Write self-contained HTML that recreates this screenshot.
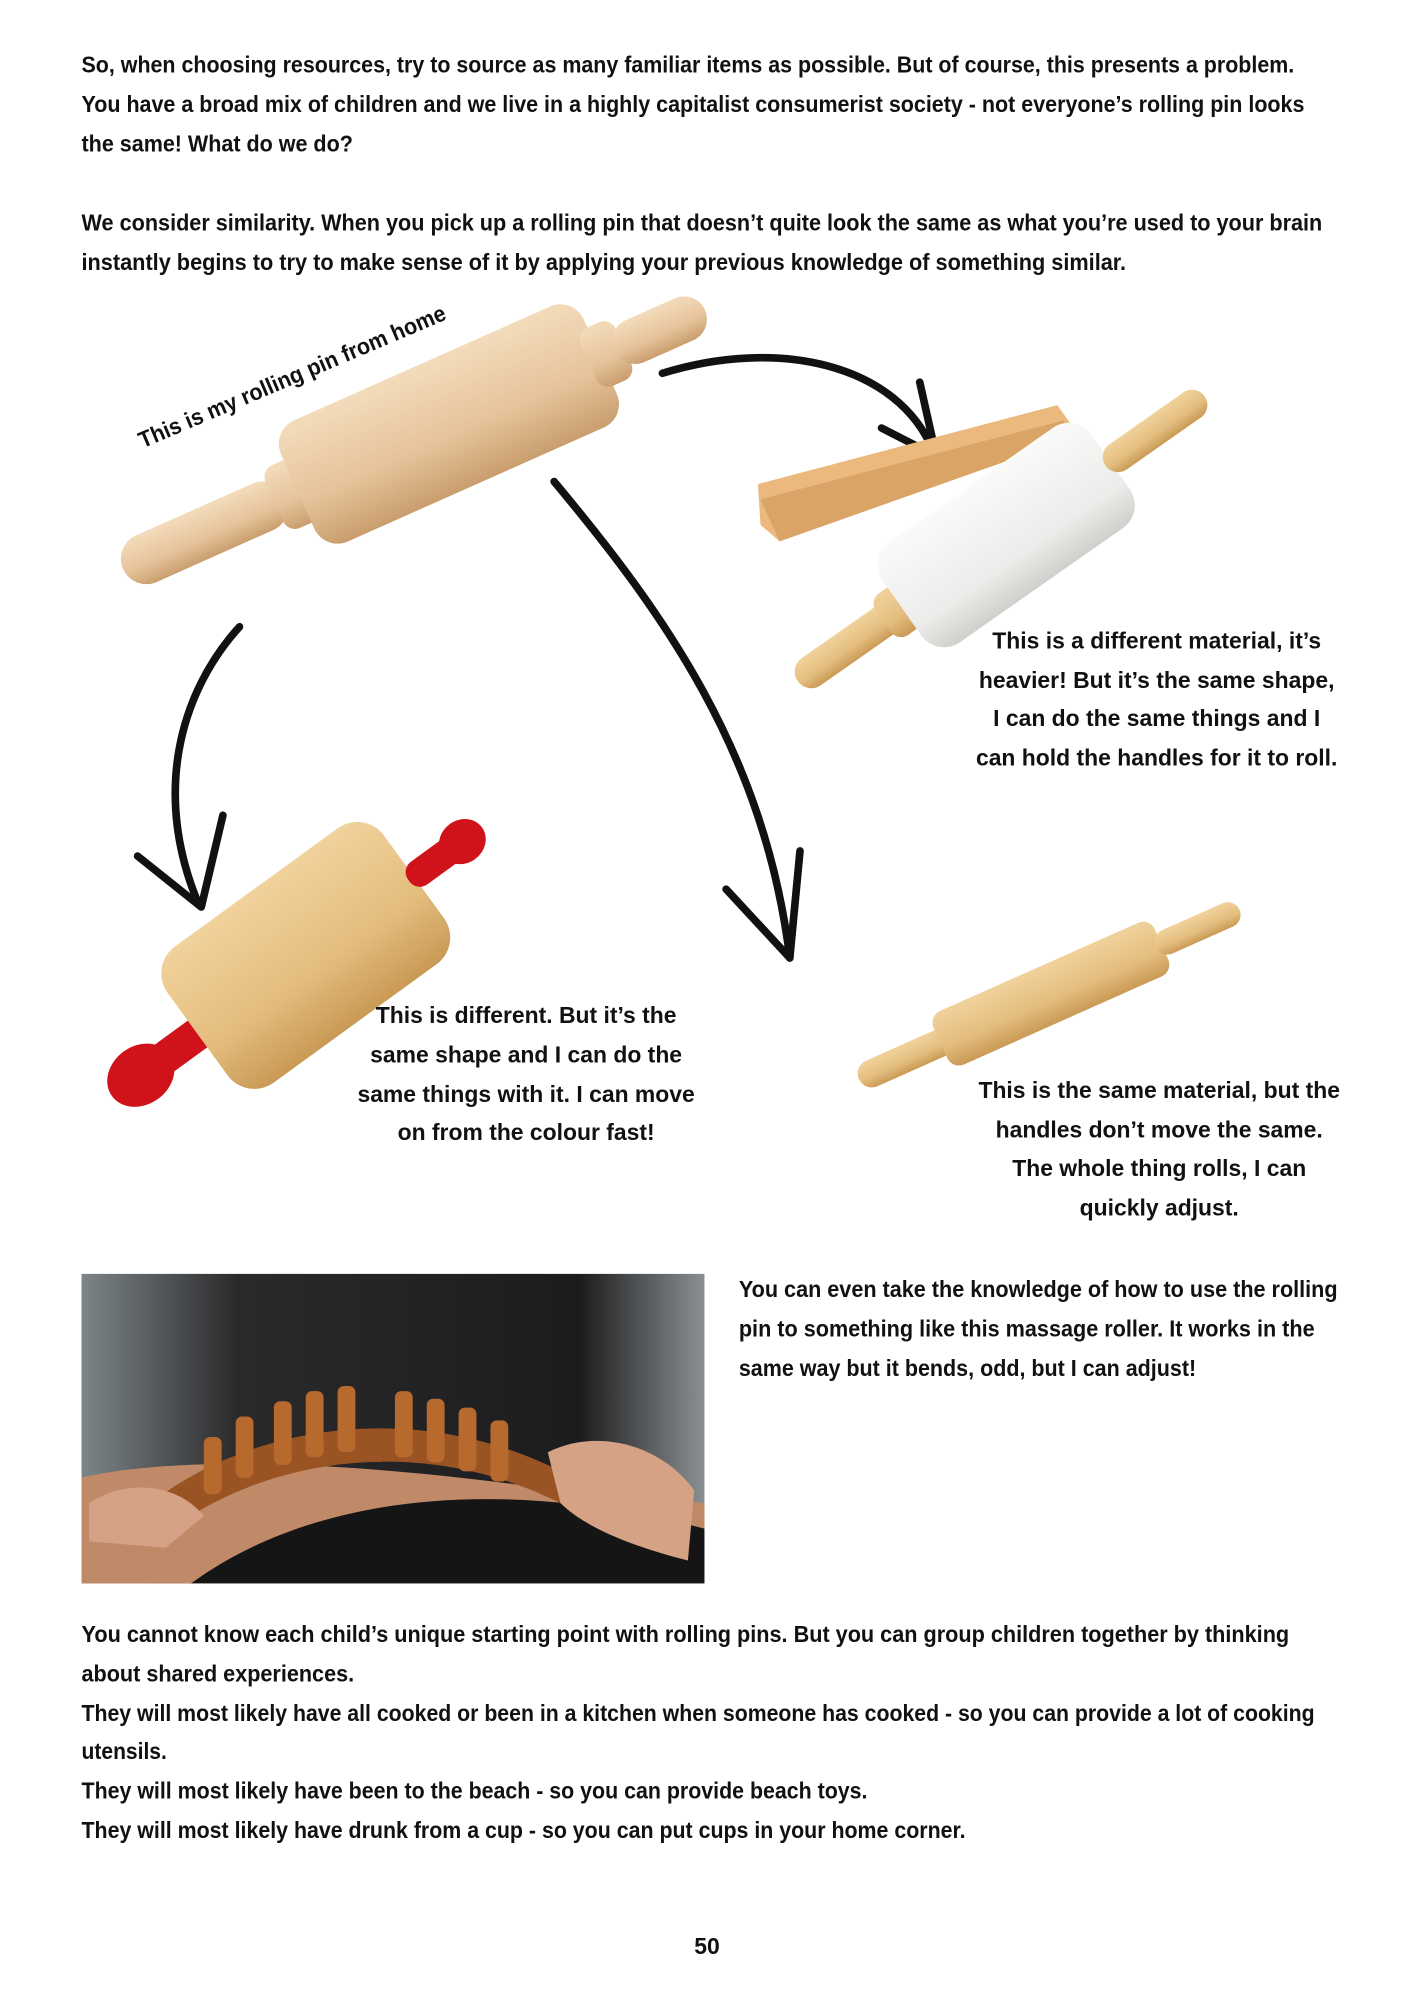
<!DOCTYPE html>
<html><head><meta charset="utf-8"><style>
html,body{margin:0;padding:0;background:#fff;width:1414px;height:2000px;overflow:hidden}
svg{display:block}
text{font-family:"Liberation Sans Narrow","Liberation Sans",sans-serif;font-weight:bold;font-size:18px;fill:#111}
</style></head><body>
<svg width="1414" height="2000" viewBox="0 0 1110 1570" xmlns="http://www.w3.org/2000/svg">
<defs>
<linearGradient id="wood" x1="0" y1="0" x2="0" y2="1"><stop offset="0" stop-color="#f3dcbb"/><stop offset="0.6" stop-color="#e6c29a"/><stop offset="1" stop-color="#c99e6e"/></linearGradient>
<linearGradient id="wood2" x1="0" y1="0" x2="0" y2="1"><stop offset="0" stop-color="#f1d29c"/><stop offset="0.6" stop-color="#e4bd7e"/><stop offset="1" stop-color="#c99a55"/></linearGradient>
<linearGradient id="marble" x1="0" y1="0" x2="0" y2="1"><stop offset="0" stop-color="#fafaf8"/><stop offset="0.7" stop-color="#ececea"/><stop offset="1" stop-color="#cfcfcc"/></linearGradient>
<linearGradient id="photo" x1="0" y1="0" x2="1" y2="0"><stop offset="0" stop-color="#7d8588"/><stop offset="0.25" stop-color="#2a2a2c"/><stop offset="0.8" stop-color="#1c1c1e"/><stop offset="1" stop-color="#8a9092"/></linearGradient>
</defs>

<text x="64" y="57" textLength="952" lengthAdjust="spacingAndGlyphs">So, when choosing resources, try to source as many familiar items as possible. But of course, this presents a problem.</text>
<text x="64" y="88" textLength="960" lengthAdjust="spacingAndGlyphs">You have a broad mix of children and we live in a highly capitalist consumerist society - not everyone’s rolling pin looks</text>
<text x="64" y="119" textLength="213" lengthAdjust="spacingAndGlyphs">the same! What do we do?</text>
<text x="64" y="181" textLength="974" lengthAdjust="spacingAndGlyphs">We consider similarity. When you pick up a rolling pin that doesn’t quite look the same as what you’re used to your brain</text>
<text x="64" y="212" textLength="820" lengthAdjust="spacingAndGlyphs">instantly begins to try to make sense of it by applying your previous knowledge of something similar.</text>

<!-- pin 1 -->
<g transform="translate(325,345) rotate(-24)">
<rect x="-250" y="-20" width="140" height="40" rx="20" fill="url(#wood)"/>
<rect x="-120" y="-27" width="30" height="54" rx="10" fill="url(#wood)"/>
<rect x="-100" y="-52" width="260" height="104" rx="20" fill="url(#wood)"/>
<rect x="150" y="-25" width="30" height="50" rx="10" fill="url(#wood)"/>
<rect x="172" y="-18" width="78" height="36" rx="18" fill="url(#wood)"/>
</g>
<text transform="translate(112,352) rotate(-23)" font-size="17" textLength="260" lengthAdjust="spacingAndGlyphs">This is my rolling pin from home</text>

<!-- arrows -->
<g fill="none" stroke="#111" stroke-width="6" stroke-linecap="round" stroke-linejoin="round">
<path d="M520,293 C610,265 705,285 733,355"/>
<path d="M692,336 L735,358 L722,300"/>
<path d="M435,378 C520,480 600,590 620,752"/>
<path d="M570,698 L620,752 L628,668"/>
<path d="M188,492 C140,545 120,625 156,710"/>
<path d="M108,672 L158,712 L175,640"/>
</g>

<!-- tray -->
<polygon points="595,380 830,318 840,332 838,345 612,425 597,412" fill="#ebb97e"/>
<polygon points="597,392 835,330 838,345 612,425" fill="#d9a466"/>

<!-- marble pin -->
<g transform="translate(790,420) rotate(-35)">
<rect x="-200" y="-13" width="95" height="26" rx="13" fill="url(#wood2)"/>
<rect x="-118" y="-20" width="26" height="40" rx="10" fill="url(#wood2)"/>
<rect x="-100" y="-48" width="200" height="96" rx="22" fill="url(#marble)"/>
<rect x="95" y="-12" width="95" height="24" rx="12" fill="url(#wood2)"/>
</g>
<g text-anchor="middle">
<text x="908" y="509">This is a different material, it’s</text>
<text x="908" y="540">heavier! But it’s the same shape,</text>
<text x="908" y="570">I can do the same things and I</text>
<text x="908" y="601">can hold the handles for it to roll.</text>
</g>

<!-- red pin -->
<g transform="translate(240,750) rotate(-36)">
<ellipse cx="-160" cy="0" rx="28" ry="23" fill="#d0121b"/>
<rect x="-160" y="-13" width="70" height="26" rx="12" fill="#d0121b"/>
<rect x="-105" y="-66" width="210" height="132" rx="26" fill="url(#wood2)"/>
<rect x="100" y="-11" width="50" height="22" rx="10" fill="#d0121b"/>
<ellipse cx="152" cy="0" rx="19" ry="17" fill="#d0121b"/>
</g>
<g text-anchor="middle">
<text x="413" y="803">This is different. But it’s the</text>
<text x="413" y="834">same shape and I can do the</text>
<text x="413" y="865">same things with it. I can move</text>
<text x="413" y="895">on from the colour fast!</text>
</g>

<!-- small pin -->
<g transform="translate(825,780) rotate(-24)">
<rect x="-165" y="-11" width="80" height="22" rx="11" fill="url(#wood2)"/>
<rect x="-95" y="-23" width="190" height="46" rx="10" fill="url(#wood2)"/>
<rect x="90" y="-10" width="72" height="20" rx="10" fill="url(#wood2)"/>
</g>
<g text-anchor="middle">
<text x="910" y="862">This is the same material, but the</text>
<text x="910" y="893">handles don’t move the same.</text>
<text x="910" y="923">The whole thing rolls, I can</text>
<text x="910" y="954">quickly adjust.</text>
</g>

<!-- photo -->
<rect x="64" y="1000" width="489" height="243" fill="url(#photo)"/>
<path d="M64,1160 C150,1140 300,1150 440,1170 L553,1180 L553,1243 L64,1243 Z" fill="#c08a68"/>
<path d="M150,1243 C250,1170 400,1160 553,1200 L553,1243 Z" fill="#151515"/>
<path d="M125,1175 C200,1120 330,1095 450,1160 L440,1180 C330,1125 210,1145 135,1200 Z" fill="#9a5424"/>
<g fill="#b8692e">
<rect x="215" y="1100" width="14" height="50" rx="5"/><rect x="240" y="1092" width="14" height="52" rx="5"/><rect x="265" y="1088" width="14" height="52" rx="5"/><rect x="310" y="1092" width="14" height="52" rx="5"/><rect x="335" y="1098" width="14" height="50" rx="5"/><rect x="360" y="1105" width="14" height="50" rx="5"/><rect x="385" y="1115" width="14" height="48" rx="5"/><rect x="185" y="1112" width="14" height="48" rx="5"/><rect x="160" y="1128" width="14" height="45" rx="5"/>
</g>
<path d="M430,1140 C470,1120 520,1135 545,1170 L540,1225 C500,1215 460,1200 440,1180 Z" fill="#d6a286"/>
<path d="M70,1180 C100,1160 140,1165 160,1190 L130,1215 L70,1210 Z" fill="#d6a286"/>

<text x="580" y="1018" textLength="470" lengthAdjust="spacingAndGlyphs">You can even take the knowledge of how to use the rolling</text>
<text x="580" y="1049" textLength="452" lengthAdjust="spacingAndGlyphs">pin to something like this massage roller. It works in the</text>
<text x="580" y="1080" textLength="359" lengthAdjust="spacingAndGlyphs">same way but it bends, odd, but I can adjust!</text>

<text x="64" y="1289" textLength="948" lengthAdjust="spacingAndGlyphs">You cannot know each child’s unique starting point with rolling pins. But you can group children together by thinking</text>
<text x="64" y="1320" textLength="214" lengthAdjust="spacingAndGlyphs">about shared experiences.</text>
<text x="64" y="1351" textLength="968" lengthAdjust="spacingAndGlyphs">They will most likely have all cooked or been in a kitchen when someone has cooked - so you can provide a lot of cooking</text>
<text x="64" y="1381" textLength="67" lengthAdjust="spacingAndGlyphs">utensils.</text>
<text x="64" y="1412" textLength="617" lengthAdjust="spacingAndGlyphs">They will most likely have been to the beach - so you can provide beach toys.</text>
<text x="64" y="1443" textLength="694" lengthAdjust="spacingAndGlyphs">They will most likely have drunk from a cup - so you can put cups in your home corner.</text>

<text x="555" y="1534" text-anchor="middle" font-size="19">50</text>
</svg>
</body></html>
